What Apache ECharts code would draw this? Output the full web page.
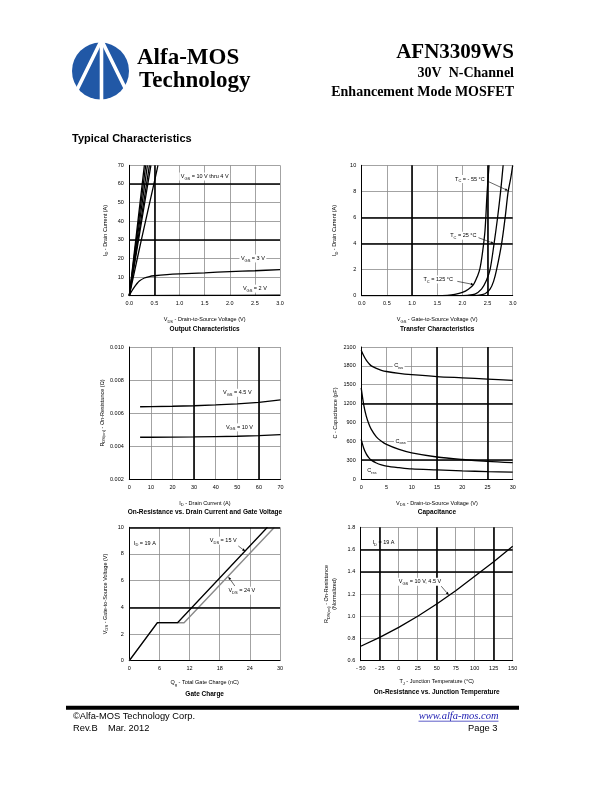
<!DOCTYPE html>
<html><head><meta charset="utf-8">
<script src="https://cdn.jsdelivr.net/npm/echarts@6/dist/echarts.min.js"></script>
<style>html,body{margin:0;padding:0;background:#fff}#c{width:612px;height:792px}</style>
</head><body><div id="c"></div>
<script>
// ================= DATA =================
// 1) Output characteristics: ID (A) vs VDS (V)
const outVgs10 = [[0,0],[0.15,35],[0.30,70]];
const outVgs8  = [[0,0],[0.163,35],[0.326,70]];
const outVgs6  = [[0,0],[0.18,35],[0.36,70]];
const outVgs5  = [[0,0],[0.20,35],[0.40,70]];
const outVgs45 = [[0,0],[0.215,35],[0.43,70]];
const outVgs4  = [[0,0],[0.24,30],[0.49,60],[0.57,70]];
const outVgs3  = [[0,0],[0.05,2.5],[0.1,4.6],[0.15,6.4],[0.2,7.9],[0.3,9.5],[0.4,10.3],[0.5,10.7],[0.75,11.3],[1.0,11.7],[1.5,12.3],[2.0,12.9],[2.5,13.4],[3.0,14.0]];
const outVgs2  = [[0,0],[1.0,0.1],[2.0,0.2],[3.0,0.3]];
// 2) Transfer characteristics: ID (A) vs VGS (V)
const trTc125 = [[0,0],[1.5,0],[1.7,0.03],[1.85,0.1],[2.0,0.25],[2.12,0.5],[2.22,0.85],[2.3,1.5],[2.35,2.1],[2.4,3.3],[2.45,5.0],[2.49,7.8],[2.53,10]];
const trTc25  = [[0,0],[1.9,0],[2.1,0.03],[2.25,0.12],[2.38,0.5],[2.47,1.1],[2.55,2.0],[2.63,4.0],[2.7,6.0],[2.76,8.0],[2.81,10]];
const trTcM55 = [[0,0],[2.1,0],[2.3,0.03],[2.45,0.15],[2.55,0.5],[2.62,1.1],[2.68,2.0],[2.78,4.0],[2.85,6.0],[2.91,8.0],[2.96,9.0],[3.0,10]];
// 3) On-resistance vs drain current
const rdsId = [5,10,20,30,40,50,60,70];
const rdsVgs45 = [0.00638,0.00639,0.00641,0.00644,0.00649,0.00655,0.00664,0.00679];
const rdsVgs10 = [0.00453,0.00453,0.00454,0.00455,0.00457,0.00459,0.00463,0.00469];
// 4) Capacitance vs VDS
const capV = [0,0.5,1,1.5,2,3,4,5,7.5,10,15,20,25,30];
const ciss = [2050,1960,1890,1840,1800,1760,1730,1710,1680,1660,1630,1610,1590,1570];
const coss = [1450,1180,1000,880,790,670,600,550,470,415,350,310,280,260];
const crss = [630,490,400,340,300,255,225,205,180,160,145,130,118,110];
// 5) Gate charge
const gcQ15 = [0,5.6,9.6,27.5];
const gcV15 = [0,2.85,2.85,10];
const gcQ24 = [0,5.6,10.9,28.9];
const gcV24 = [0,2.85,2.85,10];
// 6) Normalized on-resistance vs junction temperature
const tjT = [-50,-25,0,25,50,75,100,125,150];
const tjR = [0.73,0.81,0.90,1.0,1.11,1.23,1.36,1.49,1.63];
// heavy grid lines per chart (axis values)
const heavyX = [[0.5],[1.0,2.5],[30,60],[15,25],[],[-25,50,125]];
const heavyY = [[30,60],[4,6],[0.004],[300,1200],[4,10],[1.4,1.6]];

// ================= STYLE / LAYOUT =================
const SANS = '"Liberation Sans", Arial, sans-serif';
const SERIF = '"Liberation Serif", "Times New Roman", serif';
const rich = {
  n: {fontSize: 5.5, fontFamily: SANS, color: '#000', lineHeight: 8},
  s: {fontSize: 4, fontFamily: SANS, color: '#000', verticalAlign: 'bottom'}
};
const grids = [
  {left:129.3, top:165.3, width:150.7, height:130.4},
  {left:361.7, top:165.3, width:151, height:130.4},
  {left:129.3, top:347, width:151.2, height:132},
  {left:361.2, top:347, width:151.5, height:132},
  {left:129.3, top:527.3, width:150.7, height:133.4},
  {left:360.7, top:527.3, width:152, height:133.4}
].map(g => Object.assign({containLabel:false, outerBoundsMode:'none', show:false}, g));

const f1 = v => v.toFixed(1), f3 = v => v.toFixed(3), f0 = v => String(Math.round(v));
const fT = v => v < 0 ? '- ' + (-v) : String(v);

function xAx(gi, min, max, interval, fmt, name, gap) {
  return {type:'value', gridIndex:gi, min, max, interval,
    axisLine:{show:true, onZero:false, lineStyle:{color:'#000', width:1}},
    axisTick:{show:false},
    axisLabel:{fontSize:5.5, color:'#000', fontFamily:SANS, margin:5, formatter:fmt},
    splitLine:{show:true, lineStyle:{color:'#8c8c8c', width:0.8}},
    name, nameLocation:'middle', nameGap:gap,
    nameTextStyle:{fontSize:5.5, color:'#000', fontFamily:SANS, rich, lineHeight:8}};
}
function yAx(gi, min, max, interval, fmt, name, gap) {
  const a = xAx(gi, min, max, interval, fmt, name, gap);
  a.axisLabel.margin = 5.5;
  return a;
}
const xAxes = [
  xAx(0, 0, 3, 0.5, f1, '{n|V}{s|DS}{n| - Drain-to-Source Voltage (V)}', 20),
  xAx(1, 0, 3, 0.5, f1, '{n|V}{s|GS}{n| - Gate-to-Source Voltage (V)}', 20),
  xAx(2, 0, 70, 10, f0, '{n|I}{s|D}{n| - Drain Current (A)}', 20),
  xAx(3, 0, 30, 5, f0, '{n|V}{s|DS}{n| - Drain-to-Source Voltage (V)}', 20),
  xAx(4, 0, 30, 6, f0, '{n|Q}{s|g}{n| - Total Gate Charge (nC)}', 18),
  xAx(5, -50, 150, 25, fT, '{n|T}{s|J}{n| - Junction Temperature (°C)}', 17)
];
const yAxes = [
  yAx(0, 0, 70, 10, f0, '{n|I}{s|D}{n| - Drain Current (A)}', 20),
  yAx(1, 0, 10, 2, f0, '{n|I}{s|D}{n| - Drain Current (A)}', 23),
  yAx(2, 0.002, 0.010, 0.002, f3, '{n|R}{s|DS(on)}{n| - On-Resistance (Ω)}', 23),
  yAx(3, 0, 2100, 300, f0, '{n|C - Capacitance (pF)}', 22),
  yAx(4, 0, 10, 2, f0, '{n|V}{s|GS}{n| - Gate-to-Source Voltage (V)}', 20),
  yAx(5, 0.6, 1.8, 0.2, f1, '{n|R}{s|DS(on)}{n| - On-Resistance}\n{n|(Normalized)}', 22)
];

function marks(gi) {
  return {silent:true, symbol:'none', animation:false, label:{show:false},
    lineStyle:{color:'#000', width:1.6, type:'solid'},
    data:[...heavyX[gi].map(v => ({xAxis:v})), ...heavyY[gi].map(v => ({yAxis:v}))]};
}
const zip = (a, b) => a.map((v, i) => [v, b[i]]);
function L(gi, data, extra) {
  return Object.assign({type:'line', xAxisIndex:gi, yAxisIndex:gi, data, showSymbol:false,
    symbol:'none', animation:false, silent:true, z:3,
    lineStyle:{color:'#000', width:1.3}}, extra || {});
}
const sm = {smooth:0.3};
const series = [
  L(0, outVgs10, {markLine:marks(0)}), L(0, outVgs8), L(0, outVgs6), L(0, outVgs5), L(0, outVgs45),
  L(0, outVgs4, sm), L(0, outVgs3, sm), L(0, outVgs2),
  L(1, trTc125, Object.assign({markLine:marks(1)}, sm)), L(1, trTc25, sm), L(1, trTcM55, sm),
  L(2, zip(rdsId, rdsVgs45), {markLine:marks(2)}), L(2, zip(rdsId, rdsVgs10)),
  L(3, zip(capV, ciss), Object.assign({markLine:marks(3)}, sm)), L(3, zip(capV, coss), sm), L(3, zip(capV, crss), sm),
  L(4, zip(gcQ24, gcV24), {markLine:marks(4), lineStyle:{color:'#8a8a8a', width:1.4}}),
  L(4, zip(gcQ15, gcV15)),
  L(5, zip(tjT, tjR), {markLine:marks(5)})
];

// annotations (data coordinates)
const notes = [
  {g:0, at:[1.5,64], t:'{n|V}{s|GS}{n| = 10 V thru 4 V}', bg:true},
  {g:0, at:[2.46,20], t:'{n|V}{s|GS}{n| = 3 V}', bg:true},
  {g:0, at:[2.5,3.8], t:'{n|V}{s|GS}{n| = 2 V}', bg:true},
  {g:1, at:[2.15,8.95], t:'{n|T}{s|C}{n| = - 55 °C}', bg:true},
  {g:1, at:[2.02,4.6], t:'{n|T}{s|C}{n| = 25 °C}', bg:true},
  {g:1, at:[1.52,1.25], t:'{n|T}{s|C}{n| = 125 °C}', bg:true},
  {g:2, at:[50,0.00723], t:'{n|V}{s|GS}{n| = 4.5 V}', bg:true},
  {g:2, at:[51,0.00513], t:'{n|V}{s|GS}{n| = 10 V}', bg:true},
  {g:3, at:[7.4,1800], t:'{n|C}{s|iss}', bg:true},
  {g:3, at:[7.8,600], t:'{n|C}{s|oss}', bg:true},
  {g:3, at:[2.1,135], t:'{n|C}{s|rss}', bg:true},
  {g:4, at:[3.1,8.8], t:'{n|I}{s|D}{n| = 19 A}', bg:false},
  {g:4, at:[18.7,9.0], t:'{n|V}{s|DS}{n| = 15 V}', bg:true},
  {g:4, at:[22.4,5.25], t:'{n|V}{s|DS}{n| = 24 V}', bg:true},
  {g:5, at:[-20,1.66], t:'{n|I}{s|D}{n| = 19 A}', bg:false},
  {g:5, at:[28,1.31], t:'{n|V}{s|GS}{n| = 10 V, 4.5 V}', bg:true}
];
const arrows = [
  {g:1, from:[2.49,8.8], to:[2.91,8.05]},
  {g:1, from:[2.32,4.45], to:[2.63,4.0]},
  {g:1, from:[1.9,1.1], to:[2.23,0.85]},
  {g:4, from:[21.7,8.6], to:[23.1,8.2]},
  {g:4, from:[21.0,5.6], to:[19.7,6.3]},
  {g:5, from:[56,1.27], to:[66,1.19]}
];
const titles = [
  {g:0, t:'Output Characteristics', y:329},
  {g:1, t:'Transfer Characteristics', y:329},
  {g:2, t:'On-Resistance vs. Drain Current and Gate Voltage', y:512.5},
  {g:3, t:'Capacitance', y:512.5},
  {g:4, t:'Gate Charge', y:694},
  {g:5, t:'On-Resistance vs. Junction Temperature', y:692.5}
];

const chart = echarts.init(document.getElementById('c'), null, {renderer:'canvas', width:612, height:792});
chart.setOption({animation:false, backgroundColor:'#fff', grid:grids, xAxis:xAxes, yAxis:yAxes, series});

function txt(x, y, text, font, align, extra) {
  return {type:'text', z:100, silent:true,
    style:Object.assign({x, y, text, font, fill:'#000', align:align||'left', verticalAlign:'middle'}, extra||{})};
}
const g = [];
// header: logo
g.push({type:'circle', z:50, shape:{cx:100.5, cy:71, r:28.5}, style:{fill:'#2158a6'}});
g.push({type:'polyline', z:51, shape:{points:[[75,94],[101.5,40],[128,94]]}, style:{stroke:'#fff', lineWidth:3.6, fill:null}});
g.push({type:'line', z:51, shape:{x1:101.5, y1:40, x2:101.5, y2:101}, style:{stroke:'#fff', lineWidth:3.6}});
g.push(txt(137, 58.5, 'Alfa-MOS', 'bold 23px ' + SERIF));
g.push(txt(139, 81, 'Technology', 'bold 23px ' + SERIF));
g.push(txt(514, 52.5, 'AFN3309WS', 'bold 21px ' + SERIF, 'right'));
g.push(txt(514, 73.5, '30V  N-Channel', 'bold 14px ' + SERIF, 'right'));
g.push(txt(514, 92, 'Enhancement Mode MOSFET', 'bold 14px ' + SERIF, 'right'));
g.push(txt(72, 138.5, 'Typical Characteristics', 'bold 11px ' + SANS));
// footer
g.push({type:'rect', z:50, shape:{x:66, y:705.7, width:453, height:4}, style:{fill:'#000'}});
g.push(txt(73, 716.7, '©Alfa-MOS Technology Corp.', '9.3px ' + SANS));
g.push(txt(73, 728.5, 'Rev.B    Mar. 2012', '9.3px ' + SANS));
g.push(txt(498.5, 716, 'www.alfa-mos.com', 'italic 10.5px ' + SERIF, 'right', {fill:'#1a1ab0'}));
g.push({type:'line', z:50, shape:{x1:418.5, y1:721.2, x2:498.5, y2:721.2}, style:{stroke:'#1a1ab0', lineWidth:0.7}});
g.push(txt(497.5, 728.5, 'Page 3', '9.3px ' + SANS, 'right'));
// chart titles
titles.forEach(o => {
  const gr = grids[o.g];
  g.push(txt(gr.left + gr.width / 2, o.y, o.t, 'bold 6.5px ' + SANS, 'center'));
});
// in-plot labels
notes.forEach(o => {
  const p = chart.convertToPixel({gridIndex:o.g}, o.at);
  const st = {rich, fontSize:5.5, fontFamily:SANS};
  if (o.bg) { st.backgroundColor = '#fff'; st.padding = [0, 1.5]; }
  g.push({type:'text', z:100, silent:true,
    style:Object.assign({x:p[0], y:p[1], text:o.t, fill:'#000', align:'center', verticalAlign:'middle'}, st)});
});
// arrows
arrows.forEach(o => {
  const p1 = chart.convertToPixel({gridIndex:o.g}, o.from);
  const p2 = chart.convertToPixel({gridIndex:o.g}, o.to);
  const dx = p2[0] - p1[0], dy = p2[1] - p1[1], len = Math.hypot(dx, dy);
  const ux = dx / len, uy = dy / len, hl = 3.2, hw = 1.3;
  const b = [p2[0] - ux * hl, p2[1] - uy * hl];
  g.push({type:'line', z:101, silent:true, shape:{x1:p1[0], y1:p1[1], x2:b[0], y2:b[1]}, style:{stroke:'#000', lineWidth:0.6}});
  g.push({type:'polygon', z:101, silent:true, shape:{points:[p2, [b[0] - uy * hw, b[1] + ux * hw], [b[0] + uy * hw, b[1] - ux * hw]]}, style:{fill:'#000'}});
});
chart.setOption({graphic:g});
</script>
</body></html>
